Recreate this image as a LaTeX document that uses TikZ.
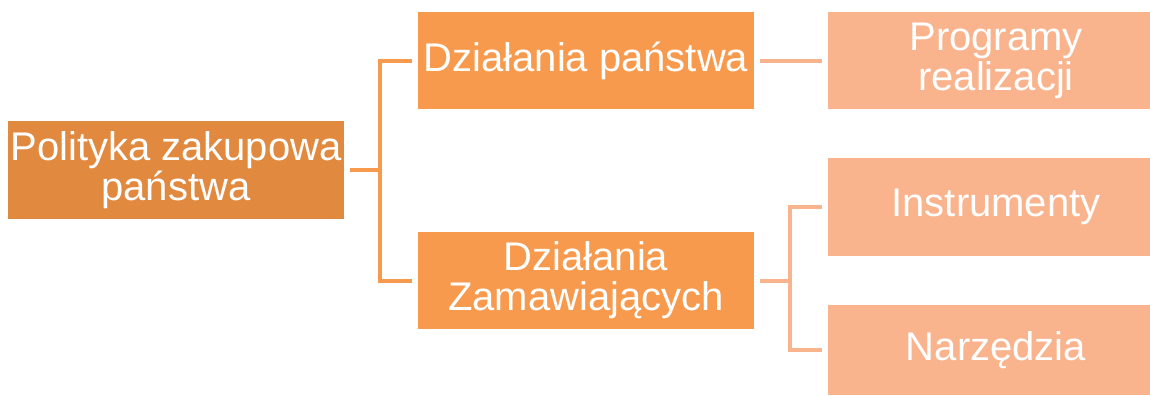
\documentclass[tikz,border=0pt]{standalone}
\usepackage{fontspec}
\setmainfont{Liberation Sans}
\usepackage{tikz}
\definecolor{darkor}{HTML}{E0893F}
\definecolor{midor}{HTML}{F79A4E}
\definecolor{lightor}{HTML}{F9B38D}
\tikzstyle{box}=[rectangle,inner sep=0pt,text=white,align=center,font=\fontsize{30}{30}\selectfont]
\tikzstyle{edge} = [draw,line width=3pt,-]

\begin{document}
\begin{tikzpicture}[x=0.75pt,y=-0.75pt]
      \useasboundingbox (0,0) rectangle (1150,396);
      \clip (0,0) rectangle (1150,396);
      \node[box,fill=darkor,minimum width=252pt,minimum height=73.5pt] (root) at (176,170) {Polityka zakupowa\\państwa};
      \node[box,fill=midor,minimum width=252pt,minimum height=73pt] (dp) at (586,60.5) {Działania państwa};
      \node[box,fill=midor,minimum width=252pt,minimum height=73pt] (dz) at (586,280.5) {Działania\\Zamawiających};
      \node[box,fill=lightor,minimum width=252pt,minimum height=73pt] (prog) at (996,60.5) {Programy\\realizacji};
      \node[box,fill=lightor,minimum width=252pt,minimum height=73.5pt] (instr) at (996,207) {Instrumenty};
      \node[box,fill=lightor,minimum width=252pt,minimum height=67.5pt] (narz) at (996,350) {Narzędzia};
      \coordinate (j1) at (380,171);
      \coordinate (j2) at (790,281);
      \draw[edge,midor] ([xshift=4.5pt]root.east) -- (root.east -| j1);
      \draw[edge,midor] ([xshift=-4.5pt]dp.west) -| (j1) |- ([xshift=-4.5pt]dz.west);
      \draw[edge,lightor] ([xshift=4.5pt]dp.east) -- ([xshift=-4.5pt]prog.west);
      \draw[edge,lightor] ([xshift=4.5pt]dz.east) -- (dz.east -| j2);
      \draw[edge,lightor] ([xshift=-4.5pt]instr.west) -| (j2) |- ([xshift=-4.5pt]narz.west);
    \end{tikzpicture}
\end{document}
